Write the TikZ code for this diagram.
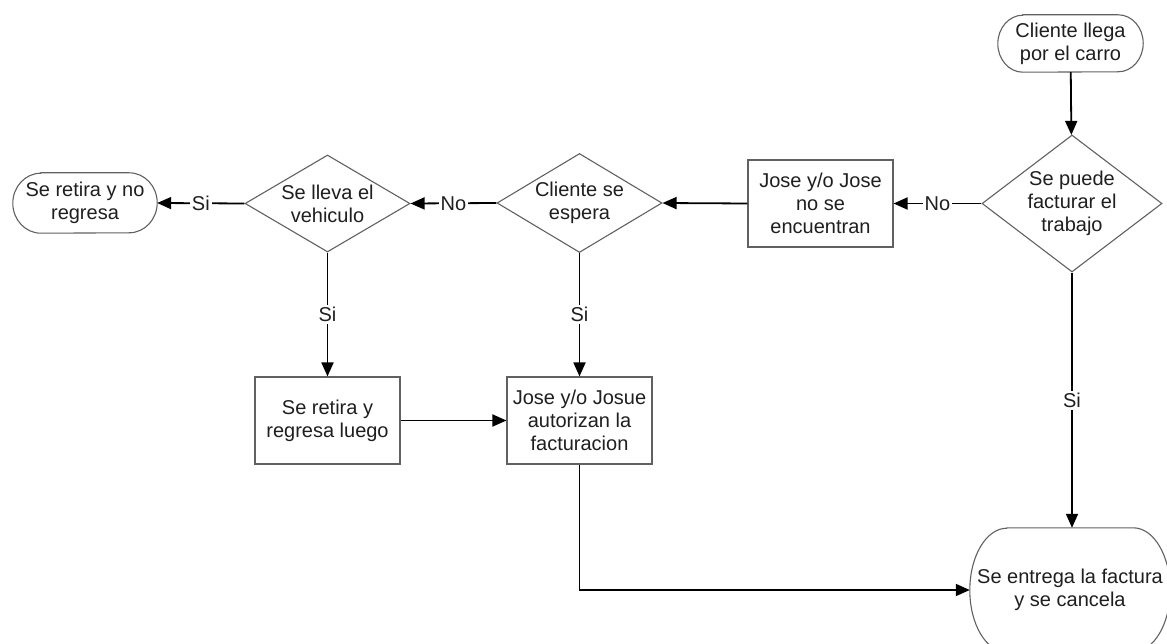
\documentclass[tikz,border=0pt]{standalone}
\usepackage{fontspec}
\setmainfont{Liberation Sans}
\usetikzlibrary{shapes.geometric,arrows.meta}

% Terminator outline with elliptical ends: #1 node name, #2 x radius, #3 y radius (pt)
\newcommand\termoutline[3]{%
  \draw[outline, fill=white] ([xshift=#2pt]#1.north west) -- ([xshift=-#2pt]#1.north east)
    arc[start angle=90, end angle=-90, x radius=#2pt, y radius=#3pt]
    -- ([xshift=#2pt]#1.south west)
    arc[start angle=270, end angle=90, x radius=#2pt, y radius=#3pt] -- cycle;}

\begin{document}
\begin{tikzpicture}[x=1pt, y=-1pt,
  every node/.style={font=\fontsize{20}{23}\selectfont, text=black!88, inner sep=0pt, align=center},
  outline/.style={draw=black!62, line width=1.1pt},
  proc/.style={rectangle, outline, fill=white, minimum width=145pt, minimum height=87pt},
  decision/.style={diamond, outline, fill=white},
  termbox/.style={rectangle, draw=none},
  flow/.style={draw=black, line width=1.8pt, -{Triangle[length=14pt, width=12pt]}},
  lbl/.style={fill=white, inner sep=2pt}]

\useasboundingbox (0,0) rectangle (1167,644);
\fill[white] (0,0) rectangle (1167,644);
\clip (0,0) rectangle (1167,644);

% Terminators (outlines drawn first, text nodes on top)
\node[termbox, minimum width=145pt, minimum height=57pt] (inicio) at (1070.5,43.5) {};
\termoutline{inicio}{25}{28.5}
\node at (inicio) {Cliente llega\\por el carro};

\node[termbox, minimum width=144pt, minimum height=60pt] (noregresa) at (85,203) {};
\termoutline{noregresa}{28}{30}
\node at (noregresa) {Se retira y no\\regresa};

\node[termbox, minimum width=200pt, minimum height=124pt] (fin) at (1070,590) {};
\termoutline{fin}{37}{62}
\node at (fin) {Se entrega la factura\\y se cancela};

% Decisions
\node[decision, minimum width=180pt, minimum height=137pt,
      label={center:{Se puede\\facturar el\\trabajo}}] (facturar) at (1072,203.5) {};
\node[decision, minimum width=165pt, minimum height=99pt,
      label={center:{Cliente se\\espera}}] (espera) at (579.5,203) {};
\node[decision, minimum width=165pt, minimum height=97pt,
      label={center:{Se lleva el\\vehiculo}}] (lleva) at (327.5,203.5) {};

% Processes
\node[proc] (ausentes) at (820.5,203.5) {Jose y/o Jose\\no se\\encuentran};
\node[proc] (luego) at (327.5,420.5) {Se retira y\\regresa luego};
\node[proc] (autoriza) at (579.5,420.5) {Jose y/o Josue\\autorizan la\\facturacion};

% Connectors
\draw[flow] (inicio) -- (facturar);
\draw[flow] (facturar.west) -- node[lbl] {No} (ausentes.east);
\draw[flow] (ausentes.west) -- (espera.east);
\draw[flow] (espera.west) -- node[lbl] {No} (lleva.east);
\draw[flow] (lleva.west) -- node[lbl] {Si} (noregresa.east);
\draw[flow] (lleva.south) -- node[lbl] {Si} (luego.north);
\draw[flow] (espera.south) -- node[lbl] {Si} (autoriza.north);
\draw[flow] (luego.east) -- (autoriza.west);
\draw[flow] (facturar.south) -- node[lbl] {Si} (facturar.south |- fin.north);
\draw[flow] (autoriza.south) |- (fin.west);

\end{tikzpicture}
\end{document}
